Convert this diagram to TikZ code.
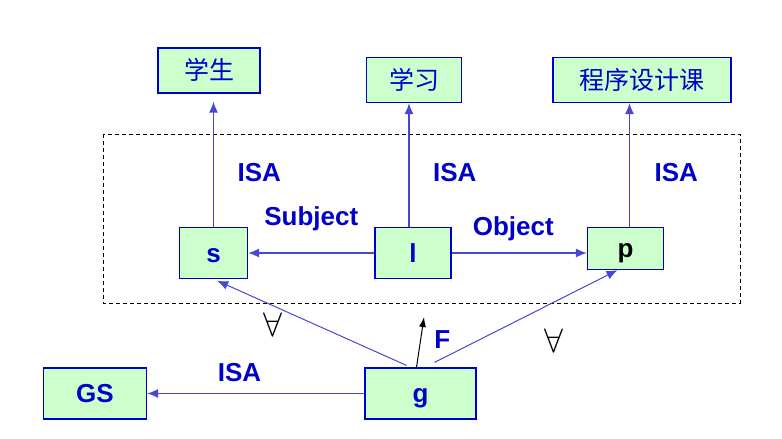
\documentclass[tikz,border=0pt]{standalone}
\usepackage{graphicx}
\usepackage{fontspec}
\setmainfont{Liberation Sans}
\newfontfamily\cjk{Noto Sans CJK SC}
\usetikzlibrary{arrows.meta}
\definecolor{boxfill}{RGB}{204,255,204}
\definecolor{boxline}{RGB}{0,0,204}
\definecolor{txtblue}{RGB}{0,0,200}
\definecolor{linkblue}{RGB}{70,70,215}
\newcommand{\allq}{\scalebox{3.4}{$\forall$}}

\begin{document}
\begin{tikzpicture}[x=1pt, y=-1pt,
  box/.style={draw=boxline, line width=1.2pt, fill=boxfill, inner sep=0pt, text=txtblue,
    text height=18pt, text depth=0pt, font=\fontsize{26}{28}\selectfont\bfseries},
  cbox/.style={box, font=\fontsize{25}{28}\selectfont\cjk},
  lab/.style={midway, text=txtblue, font=\fontsize{26}{28}\selectfont\bfseries},
  quant/.style={midway, text=black},
  link/.style={linkblue, line width=1.4pt, -{Latex[length=11pt,width=9pt]}}]
\useasboundingbox (0,0) rectangle (782,439);
% classes on top
\node[cbox, minimum width=102pt, minimum height=45pt] (student) at (209,70.5) {学生};
\node[cbox, minimum width=95pt, minimum height=45pt] (study) at (414,80) {学习};
\node[cbox, minimum width=178pt, minimum height=45pt] (course) at (642,80) {程序设计课};
% the dashed frame
\draw[dashed, dash pattern=on 4pt off 3pt, line width=0.9pt] (103,134) rectangle (740,303);
\node[box, minimum width=68pt, minimum height=51pt] (s) at (213.5,253) {s};
\node[box, minimum width=76pt, minimum height=51pt] (l) at (413,253) {l};
\node[box, minimum width=76pt, minimum height=42pt, text=black] (p) at (625.5,248.5) {p};
% bottom row
\node[box, minimum width=103pt, minimum height=51pt] (gs) at (95,393.5) {GS};
\node[box, minimum width=111pt, minimum height=51pt] (g) at (420.5,393.5) {g};
\coordinate (ftip) at (424,317);

\draw[link, shorten >=8pt] (s.north) -- (s.north |- student.south) node[lab, anchor=west, pos=0.41, xshift=20pt]{ISA};
\draw[link] ([xshift=-4pt]l.north) -- ([xshift=-4pt]l.north |- study.south) node[lab, anchor=west, pos=0.44, xshift=20pt]{ISA};
\draw[link] ([xshift=4pt]p.north) -- ([xshift=4pt]p.north |- course.south) node[lab, anchor=west, pos=0.44, xshift=21pt]{ISA};
\draw[link] (l) -- (s) node[lab, yshift=34pt]{Subject};
\draw[link] (l.east) -- (l.east -| p.west) node[lab, xshift=-6pt, yshift=24pt]{Object};
\draw[link, line width=1pt, shorten >=4pt] ([xshift=-14pt, yshift=2pt]g.north) -- (s.south) node[quant, pos=0.69, yshift=-19pt]{\allq};
\draw[link, line width=1pt] ([xshift=14pt, yshift=5pt]g.north) -- ([xshift=-8pt]p.south) node[quant, pos=0.65, yshift=-38pt]{\allq};
\draw[black, line width=1pt, -{Latex[length=10pt,width=7pt]}] ([xshift=-4pt]g.north) -- (ftip) node[lab, xshift=22pt, yshift=3pt]{F};
\draw[link] (g) -- (gs) node[lab, pos=0.575, yshift=21pt]{ISA};
\end{tikzpicture}
\end{document}
